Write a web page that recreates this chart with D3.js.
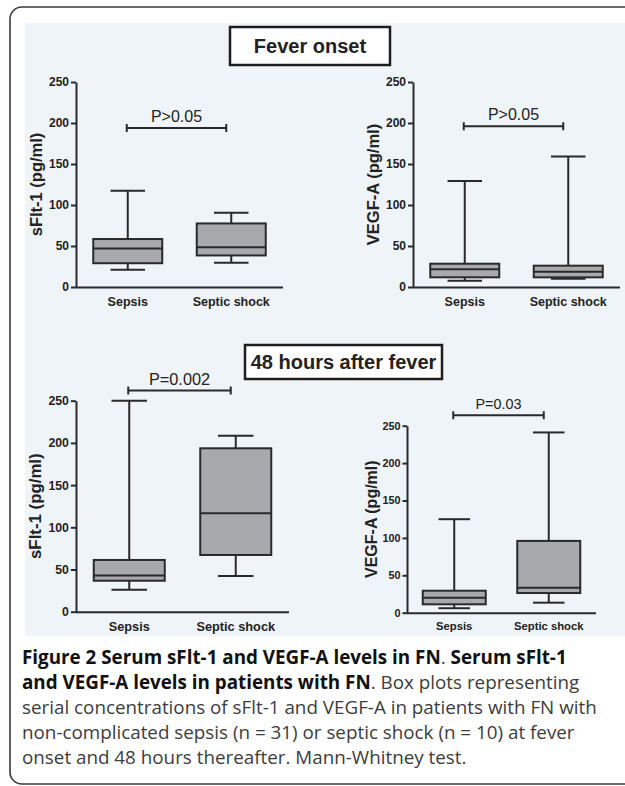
<!DOCTYPE html>
<html>
<head>
<meta charset="utf-8">
<script src="https://cdn.jsdelivr.net/npm/d3@7"></script>
<style>
  body { margin: 0; background: #fff; }
  text { font-family: "Liberation Sans", Arial, sans-serif; fill: #222; }
</style>
</head>
<body>
<script>
// groups on the x axis and y ticks shared by all four panels
const groups = ["Sepsis", "Septic shock"];
const yTicks = [0, 50, 100, 150, 200, 250];

// box stats per group: [min, q1, median, q3, max]
const sflt1Onset = [[21, 29, 47, 58.5, 117.5], [29.5, 38.5, 48.5, 77.5, 90.5]];
const vegfOnset  = [[7.7, 11.8, 21.6, 28.4, 129.3], [10, 11.8, 18.7, 26, 159]];
const sflt1At48h = [[26, 36.7, 43, 61.3, 250], [42.3, 67.2, 116.6, 193.6, 208.5]];
const vegfAt48h  = [[6, 11.2, 20, 29.4, 125], [13.4, 26.3, 33.4, 96, 241]];

const yTitles = ["sFlt-1 (pg/ml)", "VEGF-A (pg/ml)", "sFlt-1 (pg/ml)", "VEGF-A (pg/ml)"];
const pLabels = ["P>0.05", "P>0.05", "P=0.002", "P=0.03"];
const pLevels = [194, 196, 262, 264];   // bracket height, in pg/ml
const headings = ["Fever onset", "48 hours after fever"];

const caption = [
  [["Figure 2 Serum sFlt-1 and VEGF-A levels in FN", true], [". ", false], ["Serum sFlt-1", true]],
  [["and VEGF-A levels in patients with FN", true], [". Box plots representing", false]],
  [["serial concentrations of sFlt-1 and VEGF-A in patients with FN with", false]],
  [["non-complicated sepsis (n = 31) or septic shock (n = 10) at fever", false]],
  [["onset and 48 hours thereafter. Mann-Whitney test.", false]]
];

const W = 625, H = 786;
const ink = "#2a2a2a";

const svg = d3.select("body").append("svg")
  .attr("width", W)
  .attr("height", H);

// light panel background + rounded frame
svg.append("rect")
  .attr("x", 25).attr("y", 23)
  .attr("width", 600).attr("height", 613)
  .attr("fill", "#eff4f9");

svg.append("rect")
  .attr("x", 10).attr("y", 7)
  .attr("width", 660).attr("height", 777)
  .attr("rx", 12)
  .attr("fill", "none")
  .attr("stroke", "#3a3a3a")
  .attr("stroke-width", 1.6);

const panels = [
  {data: sflt1Onset, i: 0, left: 76,  base: 287,   top: 82,    w: 207, k: 1},
  {data: vegfOnset,  i: 1, left: 413, base: 287,   top: 82,    w: 207, k: 1},
  {data: sflt1At48h, i: 2, left: 76,  base: 611.7, top: 400.7, w: 213, k: 1.02},
  {data: vegfAt48h,  i: 3, left: 407, base: 612.7, top: 425.7, w: 189, k: 0.9}
];

panels.forEach(drawPanel);

function drawPanel(p) {
  const g = svg.append("g").attr("transform", "translate(" + p.left + ",0)");

  const y = d3.scaleLinear().domain([0, 250]).range([p.base, p.top]);
  const x = d3.scaleBand().domain(groups).range([0, p.w])
    .paddingInner(1 / 3).paddingOuter(1 / 6);
  const bw = x.bandwidth();

  // y axis
  const yAxis = g.append("g")
    .call(d3.axisLeft(y).tickValues(yTicks).tickSize(5 * p.k).tickSizeOuter(0).tickPadding(2));
  yAxis.selectAll("path, line").attr("stroke", ink).attr("stroke-width", 2);
  yAxis.selectAll("text")
    .attr("fill", "#222")
    .style("font-family", '"Liberation Sans", Arial, sans-serif')
    .style("font-weight", "bold")
    .style("font-size", (12 * p.k) + "px");

  // x axis line
  g.append("line")
    .attr("x1", 0).attr("x2", p.w)
    .attr("y1", p.base + 0.5).attr("y2", p.base + 0.5)
    .attr("stroke", ink).attr("stroke-width", 2);

  g.selectAll(".cat").data(groups).enter()
    .append("text")
      .attr("x", d => x(d) + bw / 2)
      .attr("y", p.base + 19 * p.k)
      .attr("text-anchor", "middle")
      .style("font-weight", "bold")
      .style("font-size", (12.5 * p.k) + "px")
      .text(d => d);

  // y title
  g.append("text")
    .attr("transform", "translate(" + (-40 * p.k) + "," + ((p.base + p.top) / 2) + ") rotate(-90)")
    .attr("text-anchor", "middle")
    .attr("dy", "0.35em")
    .style("font-weight", "bold")
    .style("font-size", (p.i === 3 ? 16 : 16.5 * p.k) + "px")
    .text(yTitles[p.i]);

  // boxes
  const box = g.selectAll(".box").data(p.data).enter()
    .append("g")
      .attr("transform", (d, j) => "translate(" + (x(groups[j]) + bw / 2) + ",0)");

  box.append("line")
    .attr("y1", d => y(d[4])).attr("y2", d => y(d[0]))
    .attr("stroke", ink).attr("stroke-width", 2);
  box.selectAll(".cap").data(d => [d[0], d[4]]).enter()
    .append("line")
      .attr("x1", -bw / 4).attr("x2", bw / 4)
      .attr("y1", v => y(v)).attr("y2", v => y(v))
      .attr("stroke", ink).attr("stroke-width", 2);
  box.append("rect")
    .attr("x", -bw / 2).attr("width", bw)
    .attr("y", d => y(d[3]))
    .attr("height", d => y(d[1]) - y(d[3]))
    .attr("fill", "#a8a9ad")
    .attr("stroke", ink).attr("stroke-width", 2);
  box.append("line")
    .attr("x1", -bw / 2).attr("x2", bw / 2)
    .attr("y1", d => y(d[2])).attr("y2", d => y(d[2]))
    .attr("stroke", ink).attr("stroke-width", 2);

  // significance bracket
  const by = y(pLevels[p.i]);
  const bx1 = x(groups[0]) + bw / 2 - 1;
  const bx2 = x(groups[1]) + bw / 2 - 5;
  g.append("path")
    .attr("d", "M" + bx1 + "," + (by - 4) + "V" + (by + 4) + "M" + bx1 + "," + by + "H" + bx2 +
               "M" + bx2 + "," + (by - 4) + "V" + (by + 4))
    .attr("fill", "none").attr("stroke", ink).attr("stroke-width", 2);
  g.append("text")
    .attr("x", (bx1 + bx2) / 2)
    .attr("y", by - 6)
    .attr("text-anchor", "middle")
    .style("font-size", (16 * p.k) + "px")
    .text(pLabels[p.i]);
}

// heading boxes
const headBoxes = [{x: 230, y: 27, w: 160, h: 38}, {x: 245, y: 345, w: 197, h: 34}];
headBoxes.forEach((b, i) => {
  svg.append("rect")
    .attr("x", b.x).attr("y", b.y).attr("width", b.w).attr("height", b.h)
    .attr("fill", "#fff").attr("stroke", "#1e1e1e").attr("stroke-width", 2.5);
  svg.append("text")
    .attr("x", b.x + b.w / 2).attr("y", b.y + b.h / 2 + 7)
    .attr("text-anchor", "middle")
    .style("font-weight", "bold")
    .style("font-size", "20px")
    .text(headings[i]);
});

// caption
const cap = svg.append("g").attr("transform", "translate(22,0)");
const capLines = caption.map((line, i) => {
  const t = cap.append("text")
    .attr("x", 0).attr("y", 664 + i * 25)
    .style("font-family", "'Open Sans', Lato, sans-serif")
    .style("font-size", "17px");
  line.forEach(seg => {
    t.append("tspan")
      .attr("fill", seg[1] ? "#111" : "#3c3c3c")
      .style("font-weight", seg[1] ? "bold" : "normal")
      .text(seg[0]);
  });
  return t;
});
// size caption so the plain third line spans the column like the original
const fit = 17 * 575 / capLines[2].node().getComputedTextLength();
capLines.forEach(t => t.style("font-size", fit + "px"));
</script>
</body>
</html>
